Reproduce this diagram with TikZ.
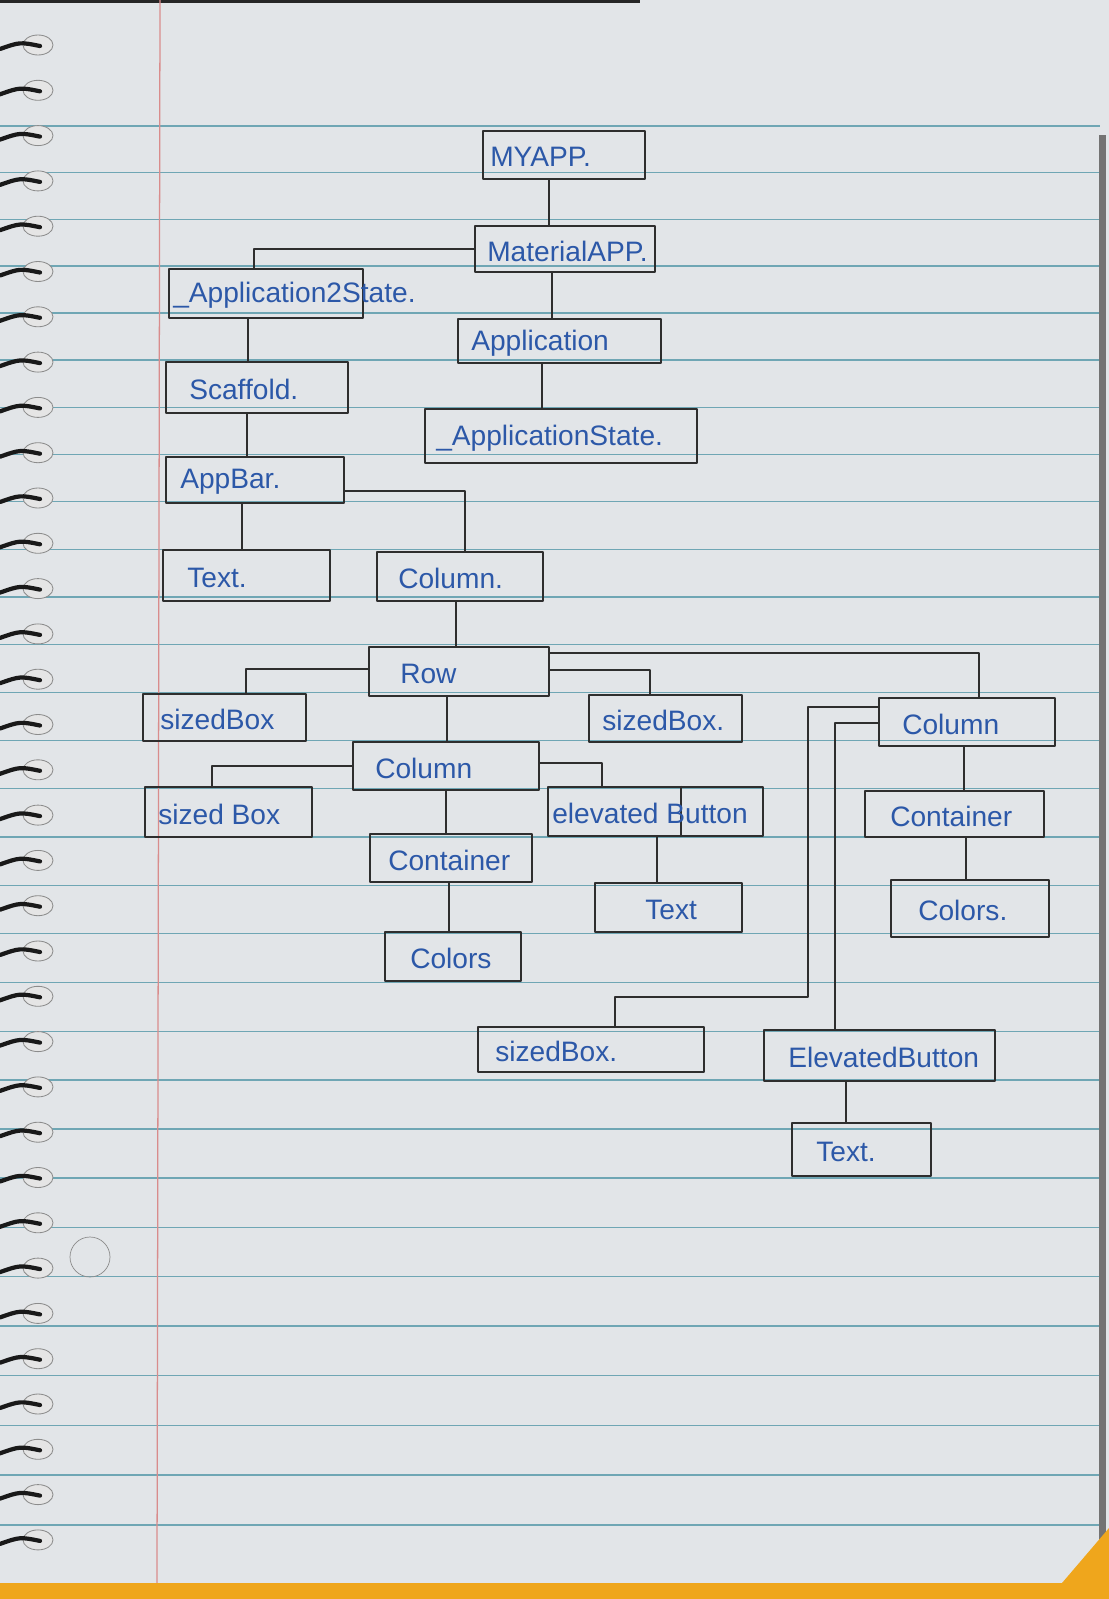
\documentclass[tikz,border=0pt]{standalone}
\usepackage{fontspec}
\setmainfont{Liberation Sans}
\usetikzlibrary{calc,fit}
\definecolor{paper}{HTML}{E2E5E8}
\definecolor{rulec}{HTML}{6FA6B4}
\definecolor{marginc}{HTML}{D98C8C}
\definecolor{ink}{HTML}{2E2E2E}
\definecolor{pen}{HTML}{2C58A8}
\definecolor{tape}{HTML}{EFA61C}
\begin{document}
\begin{tikzpicture}[x=0.025cm,y=-0.025cm,
  bx/.style={draw=ink, line width=1.9pt, inner sep=0pt, line join=round},
  lbl/.style={text=pen, font=\fontsize{20}{24}\selectfont, anchor=west, inner sep=0pt, yshift=-1.5pt},
  wire/.style={draw=ink, line width=1.7pt, line join=round},
  ring/.style={fill=black!10, draw=black!45, line width=0.6pt},
  ringwire/.style={draw=black!90, line width=3pt, line cap=round}]
\useasboundingbox (0,0) rectangle (1109,1599);
% paper
\fill[paper] (0,0) rectangle (1109,1599);
\fill[black!85] (0,0) rectangle (640,3);
% ruled lines
\foreach \i in {0,...,29}{
  \pgfmathsetmacro\yy{126+46.5*\i+0.06*\i*\i}
  \draw[rulec, line width=0.8pt] (0,\yy) -- (1100,\yy);
}
% margin
\draw[marginc, line width=0.9pt] (160,0) -- (157,1583);
% right edge and bottom strip
\fill[black!55] (1099,135) rectangle (1106,1545);
\fill[tape] (0,1583) rectangle (1109,1599);
\fill[tape] (1109,1528) -- (1109,1583) -- (1062,1583) -- cycle;
% spiral rings
\foreach \i in {0,...,33}{
  \pgfmathsetmacro\ry{45+45.3*\i}
  \path[ring] (38,\ry) ellipse [x radius=15, y radius=10];
  \draw[ringwire] (0,\ry+4) .. controls (20,\ry-3) .. (40,\ry+1);
}
% pencil circle
\draw[black!45, line width=0.5pt] (90,1257) circle [radius=20];

% boxes
\node[bx, fit={(483,131) (645,179)}] (myapp) {};
\node[bx, fit={(475,226) (655,272)}] (matapp) {};
\node[bx, fit={(169,269) (363,318)}] (app2) {};
\node[bx, fit={(458,319) (661,363)}] (appl) {};
\node[bx, fit={(425,409) (697,463)}] (appstate) {};
\node[bx, fit={(166,362) (348,413)}] (scaffold) {};
\node[bx, fit={(166,457) (344,503)}] (appbar) {};
\node[bx, fit={(163,550) (330,601)}] (text1) {};
\node[bx, fit={(377,552) (543,601)}] (col1) {};
\node[bx, fit={(369,647) (549,696)}] (row) {};
\node[bx, fit={(143,694) (306,741)}] (sb1) {};
\node[bx, fit={(589,695) (742,742)}] (sb2) {};
\node[bx, fit={(353,742) (539,790)}] (col2) {};
\node[bx, fit={(145,787) (312,837)}] (sb3) {};
\node[bx, fit={(548,787) (763,836)}] (elev1) {};
\node[bx, fit={(370,834) (532,882)}] (cont1) {};
\node[bx, fit={(595,883) (742,932)}] (text2) {};
\node[bx, fit={(385,932) (521,981)}] (colors1) {};
\node[bx, fit={(879,698) (1055,746)}] (col3) {};
\node[bx, fit={(865,791) (1044,837)}] (cont2) {};
\node[bx, fit={(891,880) (1049,937)}] (colors2) {};
\node[bx, fit={(478,1027) (704,1072)}] (sb4) {};
\node[bx, fit={(764,1030) (995,1081)}] (elev2) {};
\node[bx, fit={(792,1123) (931,1176)}] (text3) {};
\draw[ink, line width=1.9pt] (elev1.north -| 681,0) -- (elev1.south -| 681,0);

% labels
\node[lbl] (myapp-t) at (myapp.west -| 490,0) {MYAPP.};
\node[lbl] (matapp-t) at (matapp.west -| 487,0) {MaterialAPP.};
\node[lbl] (app2-t) at (app2.west -| 173,0) {\_Application2State.};
\node[lbl] (appl-t) at (appl.west -| 471,0) {Application};
\node[lbl] (appstate-t) at (appstate.west -| 436,0) {\_ApplicationState.};
\node[lbl] (scaffold-t) at (scaffold.west -| 189,0) {Scaffold.};
\node[lbl] (appbar-t) at (appbar.west -| 180,0) {AppBar.};
\node[lbl] (text1-t) at (text1.west -| 187,0) {Text.};
\node[lbl] (col1-t) at (col1.west -| 398,0) {Column.};
\node[lbl] (row-t) at (row.west -| 400,0) {Row};
\node[lbl] (sb1-t) at (sb1.west -| 160,0) {sizedBox};
\node[lbl] (sb2-t) at (sb2.west -| 602,0) {sizedBox.};
\node[lbl] (col2-t) at (col2.west -| 375,0) {Column};
\node[lbl] (sb3-t) at (sb3.west -| 158,0) {sized Box};
\node[lbl] (elev1-t) at (elev1.west -| 552,0) {elevated Button};
\node[lbl] (cont1-t) at (cont1.west -| 388,0) {Container};
\node[lbl] (text2-t) at (text2.west -| 645,0) {Text};
\node[lbl] (colors1-t) at (colors1.west -| 410,0) {Colors};
\node[lbl] (col3-t) at (col3.west -| 902,0) {Column};
\node[lbl] (cont2-t) at (cont2.west -| 890,0) {Container};
\node[lbl] (colors2-t) at (colors2.west -| 918,0) {Colors.};
\node[lbl] (sb4-t) at (sb4.west -| 495,0) {sizedBox.};
\node[lbl] (elev2-t) at (elev2.west -| 788,0) {ElevatedButton};
\node[lbl] (text3-t) at (text3.west -| 816,0) {Text.};

% connectors
\draw[wire] (myapp.south -| 549,0) -- (matapp.north -| 549,0);
\draw[wire] (matapp.west) -| (app2.north -| 254,0);
\draw[wire] (matapp.south -| 552,0) -- (appl.north -| 552,0);
\draw[wire] (app2.south -| 248,0) -- (scaffold.north -| 248,0);
\draw[wire] (appl.south -| 542,0) -- (appstate.north -| 542,0);
\draw[wire] (scaffold.south -| 247,0) -- (appbar.north -| 247,0);
\draw[wire] (appbar.south -| 242,0) -- (text1.north -| 242,0);
\draw[wire] (appbar.east |- 0,491) -| (col1.north -| 465,0);
\draw[wire] (col1.south -| 456,0) -- (row.north -| 456,0);
\draw[wire] (row.west |- 0,669) -| (sb1.north -| 246,0);
\draw[wire] (row.east |- 0,653) -| (col3.north -| 979,0);
\draw[wire] (row.east |- 0,670) -| (sb2.north -| 650,0);
\draw[wire] (row.south -| 447,0) -- (col2.north -| 447,0);
\draw[wire] (col2.west |- 0,766) -| (sb3.north -| 212,0);
\draw[wire] (col2.east |- 0,763) -| (elev1.north -| 602,0);
\draw[wire] (col2.south -| 446,0) -- (cont1.north -| 446,0);
\draw[wire] (cont1.south -| 449,0) -- (colors1.north -| 449,0);
\draw[wire] (elev1.south -| 657,0) -- (text2.north -| 657,0);
\draw[wire] (col3.west |- 0,707) -| (808,997) -| (sb4.north -| 615,0);
\draw[wire] (col3.west |- 0,723) -| (elev2.north -| 835,0);
\draw[wire] (col3.south -| 964,0) -- (cont2.north -| 964,0);
\draw[wire] (cont2.south -| 966,0) -- (colors2.north -| 966,0);
\draw[wire] (elev2.south -| 846,0) -- (text3.north -| 846,0);
\end{tikzpicture}
\end{document}
